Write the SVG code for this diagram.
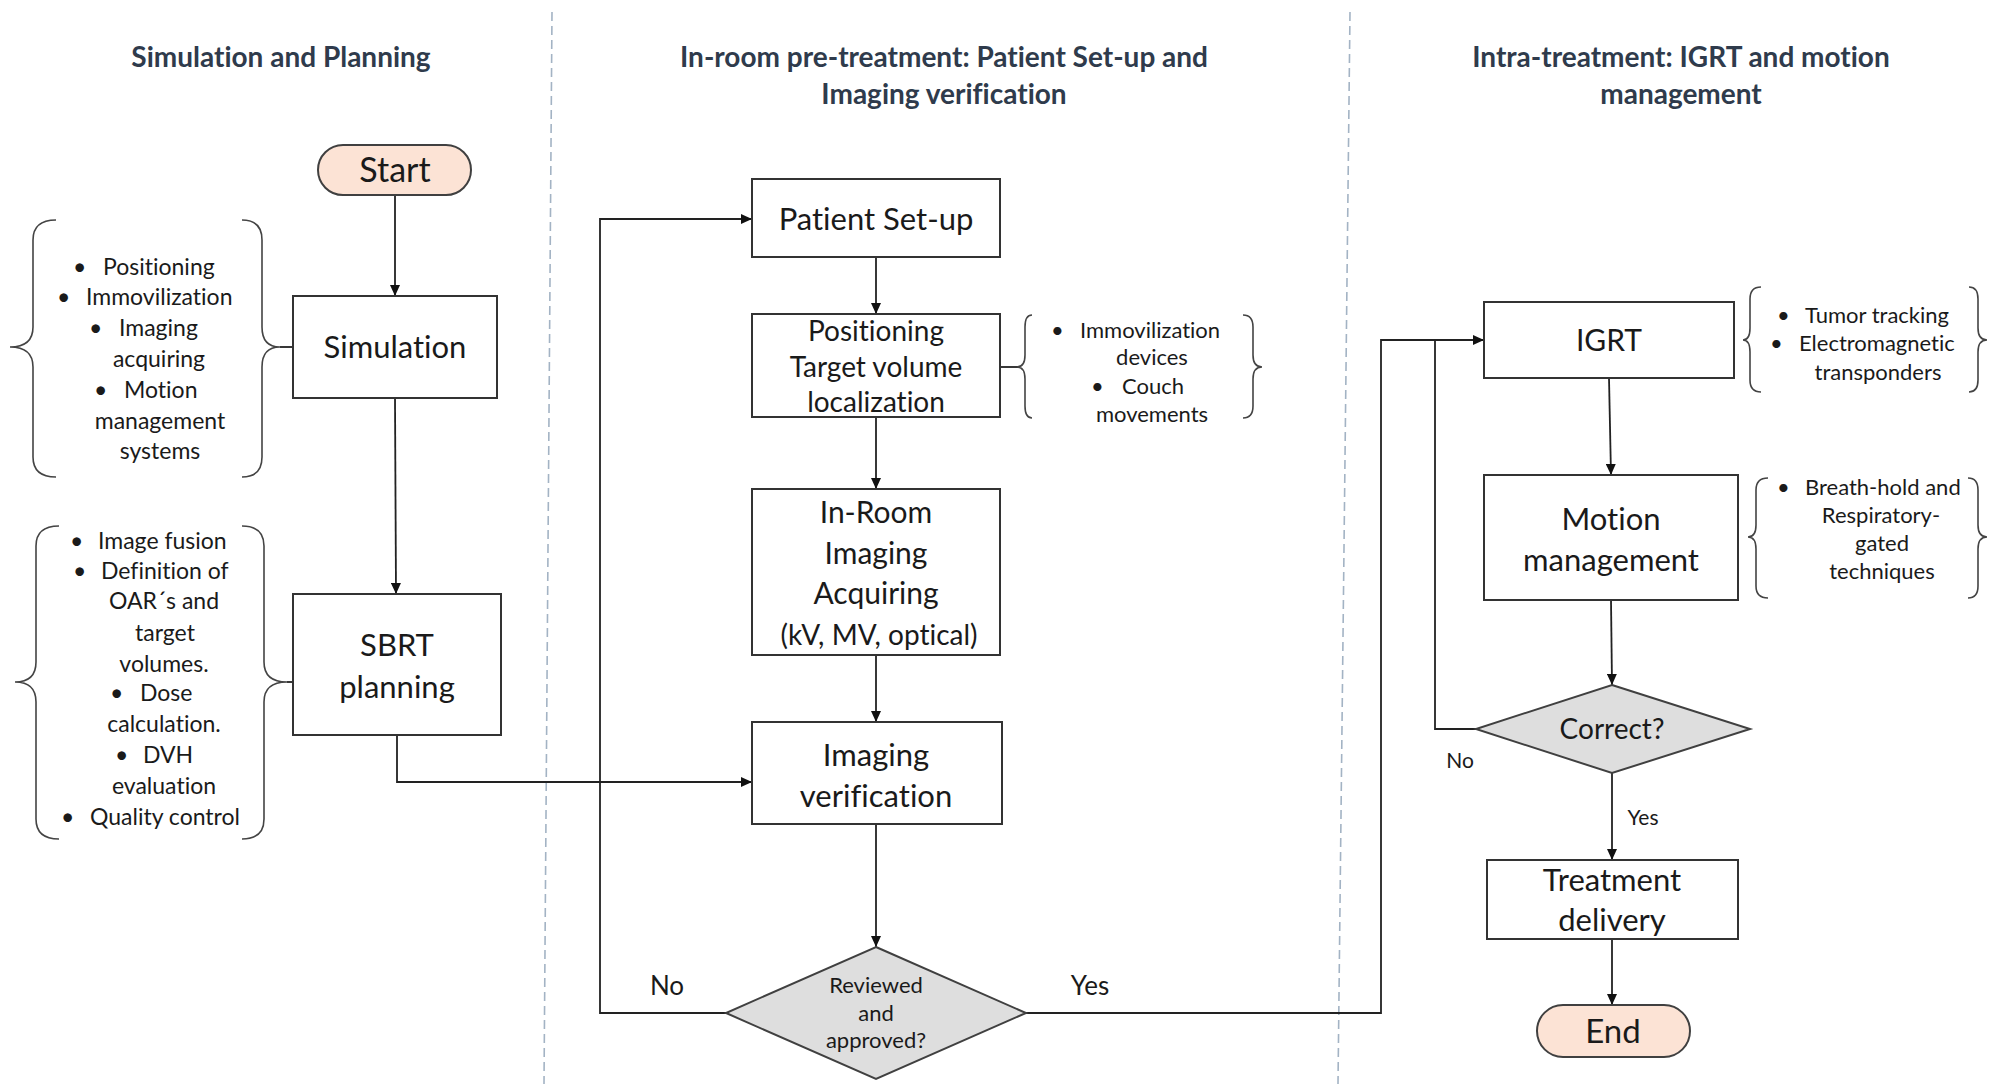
<svg xmlns="http://www.w3.org/2000/svg" width="1995" height="1084" viewBox="0 0 1995 1084">
<defs>
<marker id="arr" markerUnits="userSpaceOnUse" markerWidth="12" markerHeight="10" refX="11" refY="5" orient="auto">
<path d="M0,0 L11,5 L0,10 z" fill="#111"/>
</marker>
<style>
text{font-variant-ligatures:none;font-feature-settings:"liga" 0}
.title{font-family:Lato,"Open Sans",sans-serif;font-weight:bold;font-size:28px;fill:#2F3B4C;text-anchor:middle}
.box{fill:#fff;stroke:#333;stroke-width:2}
.pill{fill:#FCE3D5;stroke:#404040;stroke-width:2}
.dia{fill:#DEDEDE;stroke:#404040;stroke-width:2}
.t{font-family:Lato,"Open Sans",sans-serif;fill:#1a1a1a;text-anchor:middle}
.b{font-family:Lato,"Open Sans",sans-serif;fill:#1a1a1a;font-size:23px}
.bs{font-family:Lato,"Open Sans",sans-serif;fill:#1a1a1a;font-size:22px}
.c{text-anchor:middle}
.brace{fill:none;stroke:#444;stroke-width:1.6}
.conn{fill:none;stroke:#222;stroke-width:1.8}
.lane{stroke:#A3B3C4;stroke-width:1.6;stroke-dasharray:9 5}
</style>
</defs>
<rect width="1995" height="1084" fill="#fff"/>

<g id="lanes">
<line class="lane" x1="552" y1="12" x2="544" y2="1084"/>
<line class="lane" x1="1350" y1="12" x2="1338" y2="1084"/>
</g>

<g id="titles">
<text class="title" x="281" y="67">Simulation and Planning</text>
<text class="title" x="944" y="67">In-room pre-treatment: Patient Set-up and</text>
<text class="title" x="944" y="104">Imaging verification</text>
<text class="title" x="1681" y="67">Intra-treatment: IGRT and motion</text>
<text class="title" x="1681" y="104">management</text>
</g>

<g id="connectors">
<line class="conn" x1="395" y1="195" x2="395" y2="296" marker-end="url(#arr)"/>
<line class="conn" x1="395" y1="398" x2="396" y2="594" marker-end="url(#arr)"/>
<polyline class="conn" points="397,735 397,782 752,782" marker-end="url(#arr)"/>
<line class="conn" x1="876" y1="257" x2="876" y2="314" marker-end="url(#arr)"/>
<line class="conn" x1="876" y1="417" x2="876" y2="489" marker-end="url(#arr)"/>
<line class="conn" x1="876" y1="655" x2="876" y2="722" marker-end="url(#arr)"/>
<line class="conn" x1="876" y1="824" x2="876" y2="947" marker-end="url(#arr)"/>
<polyline class="conn" points="726,1013 600,1013 600,219 752,219" marker-end="url(#arr)"/>
<polyline class="conn" points="1025,1013 1381,1013 1381,340 1484,340" marker-end="url(#arr)"/>
<line class="conn" x1="1609" y1="378" x2="1611" y2="475" marker-end="url(#arr)"/>
<line class="conn" x1="1611" y1="600" x2="1612" y2="685" marker-end="url(#arr)"/>
<polyline class="conn" points="1476,729 1435,729 1435,340"/>
<line class="conn" x1="1612" y1="773" x2="1612" y2="860" marker-end="url(#arr)"/>
<line class="conn" x1="1612" y1="939" x2="1612" y2="1005" marker-end="url(#arr)"/>
<line class="conn" x1="280" y1="347" x2="293" y2="347"/>
<line class="conn" x1="287" y1="682" x2="293" y2="682"/>
<line class="conn" x1="1000" y1="367" x2="1018" y2="367"/>
<text class="t" x="667" y="995" font-size="26">No</text>
<text class="t" x="1090" y="995" font-size="26">Yes</text>
<text class="t" x="1460" y="768" font-size="21">No</text>
<text class="t" x="1643" y="825" font-size="21">Yes</text>
</g>

<g id="start">
<rect class="pill" x="318" y="145" width="153" height="50" rx="25"/>
<text class="t" x="395" y="182" font-size="34">Start</text>
</g>

<g id="simulation">
<rect class="box" x="293" y="296" width="204" height="102"/>
<text class="t" x="395" y="358" font-size="31">Simulation</text>
</g>

<g id="simulation-notes">
<path class="brace" d="M56,220 Q33,220 33,240 L33,327 Q33,347 10,347 Q33,347 33,367 L33,457 Q33,477 56,477"/>
<path class="brace" d="M242,220 Q262,220 262,240 L262,327 Q262,347 280,347 Q262,347 262,367 L262,457 Q262,477 242,477"/>
<text class="b"><tspan x="73" y="275">•</tspan><tspan x="103" y="275">Positioning</tspan></text>
<text class="b"><tspan x="57" y="305">•</tspan><tspan x="86" y="305">Immovilization</tspan></text>
<text class="b"><tspan x="89" y="336">•</tspan><tspan x="119" y="336">Imaging</tspan></text>
<text class="b c" x="159" y="367">acquiring</text>
<text class="b"><tspan x="94" y="398">•</tspan><tspan x="124" y="398">Motion</tspan></text>
<text class="b c" x="160" y="429">management</text>
<text class="b c" x="160" y="459">systems</text>
</g>

<g id="sbrt-planning">
<rect class="box" x="293" y="594" width="208" height="141"/>
<text class="t" x="397" y="656" font-size="31">SBRT</text>
<text class="t" x="397" y="698" font-size="31">planning</text>
</g>

<g id="planning-notes">
<path class="brace" d="M59,526 Q36,526 36,546 L36,662 Q36,682 15,682 Q36,682 36,702 L36,819 Q36,839 59,839"/>
<path class="brace" d="M242,526 Q264,526 264,546 L264,662 Q264,682 287,682 Q264,682 264,702 L264,819 Q264,839 242,839"/>
<text class="b"><tspan x="70" y="549">•</tspan><tspan x="98" y="549">Image fusion</tspan></text>
<text class="b"><tspan x="73" y="579">•</tspan><tspan x="101" y="579">Definition of</tspan></text>
<text class="b c" x="164" y="609">OAR´s and</text>
<text class="b c" x="165" y="641">target</text>
<text class="b c" x="164" y="672">volumes.</text>
<text class="b"><tspan x="110" y="701">•</tspan><tspan x="140" y="701">Dose</tspan></text>
<text class="b c" x="164" y="732">calculation.</text>
<text class="b"><tspan x="115" y="763">•</tspan><tspan x="143" y="763">DVH</tspan></text>
<text class="b c" x="164" y="794">evaluation</text>
<text class="b"><tspan x="61" y="825">•</tspan><tspan x="90" y="825">Quality control</tspan></text>
</g>

<g id="patient-setup">
<rect class="box" x="752" y="179" width="248" height="78"/>
<text class="t" x="876" y="230" font-size="31">Patient Set-up</text>
</g>

<g id="positioning">
<rect class="box" x="752" y="314" width="248" height="103"/>
<text class="t" x="876" y="341" font-size="28">Positioning</text>
<text class="t" x="876" y="377" font-size="28">Target volume</text>
<text class="t" x="876" y="412" font-size="28">localization</text>
</g>

<g id="positioning-notes">
<path class="brace" d="M1032,315 Q1025,315 1025,327 L1025,355 Q1025,367 1017,367 Q1025,367 1025,379 L1025,406 Q1025,418 1032,418"/>
<path class="brace" d="M1243,315 Q1253,315 1253,327 L1253,355 Q1253,367 1262,367 Q1253,367 1253,379 L1253,406 Q1253,418 1243,418"/>
<text class="bs"><tspan x="1051" y="338">•</tspan><tspan x="1080" y="338">Immovilization</tspan></text>
<text class="bs c" x="1152" y="365">devices</text>
<text class="bs"><tspan x="1091" y="394">•</tspan><tspan x="1122" y="394">Couch</tspan></text>
<text class="bs c" x="1152" y="422">movements</text>
</g>

<g id="in-room-imaging">
<rect class="box" x="752" y="489" width="248" height="166"/>
<text class="t" x="876" y="523" font-size="30">In-Room</text>
<text class="t" x="876" y="564" font-size="30">Imaging</text>
<text class="t" x="876" y="604" font-size="30">Acquiring</text>
<text class="t" x="879" y="645" font-size="28">(kV, MV, optical)</text>
</g>

<g id="imaging-verification">
<rect class="box" x="752" y="722" width="250" height="102"/>
<text class="t" x="876" y="766" font-size="31">Imaging</text>
<text class="t" x="876" y="807" font-size="31">verification</text>
</g>

<g id="reviewed-approved">
<polygon class="dia" points="876,947 1026,1013 876,1079 726,1013"/>
<text class="t" x="876" y="993" font-size="22">Reviewed</text>
<text class="t" x="876" y="1021" font-size="22">and</text>
<text class="t" x="876" y="1048" font-size="22">approved?</text>
</g>

<g id="igrt">
<rect class="box" x="1484" y="302" width="250" height="76"/>
<text class="t" x="1609" y="351" font-size="30">IGRT</text>
</g>

<g id="igrt-notes">
<path class="brace" d="M1761,287 Q1750,287 1750,299 L1750,328 Q1750,340 1743,340 Q1750,340 1750,352 L1750,380 Q1750,392 1761,392"/>
<path class="brace" d="M1969,287 Q1978,287 1978,299 L1978,328 Q1978,340 1987,340 Q1978,340 1978,352 L1978,380 Q1978,392 1969,392"/>
<text class="bs"><tspan x="1777" y="323">•</tspan><tspan x="1805" y="323">Tumor tracking</tspan></text>
<text class="bs"><tspan x="1770" y="351">•</tspan><tspan x="1799" y="351">Electromagnetic</tspan></text>
<text class="bs c" x="1878" y="380">transponders</text>
</g>

<g id="motion-management">
<rect class="box" x="1484" y="475" width="254" height="125"/>
<text class="t" x="1611" y="530" font-size="31">Motion</text>
<text class="t" x="1611" y="571" font-size="31">management</text>
</g>

<g id="motion-notes">
<path class="brace" d="M1768,478 Q1756,478 1756,490 L1756,525 Q1756,537 1748,537 Q1756,537 1756,549 L1756,586 Q1756,598 1768,598"/>
<path class="brace" d="M1968,478 Q1978,478 1978,490 L1978,525 Q1978,537 1987,537 Q1978,537 1978,549 L1978,586 Q1978,598 1968,598"/>
<text class="bs"><tspan x="1777" y="495">•</tspan><tspan x="1805" y="495">Breath-hold and</tspan></text>
<text class="bs c" x="1881" y="523">Respiratory-</text>
<text class="bs c" x="1882" y="551">gated</text>
<text class="bs c" x="1882" y="579">techniques</text>
</g>

<g id="correct">
<polygon class="dia" points="1612,685 1750,729 1612,773 1476,729"/>
<text class="t" x="1612" y="739" font-size="28">Correct?</text>
</g>

<g id="treatment-delivery">
<rect class="box" x="1487" y="860" width="251" height="79"/>
<text class="t" x="1612" y="891" font-size="31">Treatment</text>
<text class="t" x="1612" y="931" font-size="31">delivery</text>
</g>

<g id="end">
<rect class="pill" x="1537" y="1005" width="153" height="52" rx="26"/>
<text class="t" x="1613" y="1043" font-size="33">End</text>
</g>
</svg>
